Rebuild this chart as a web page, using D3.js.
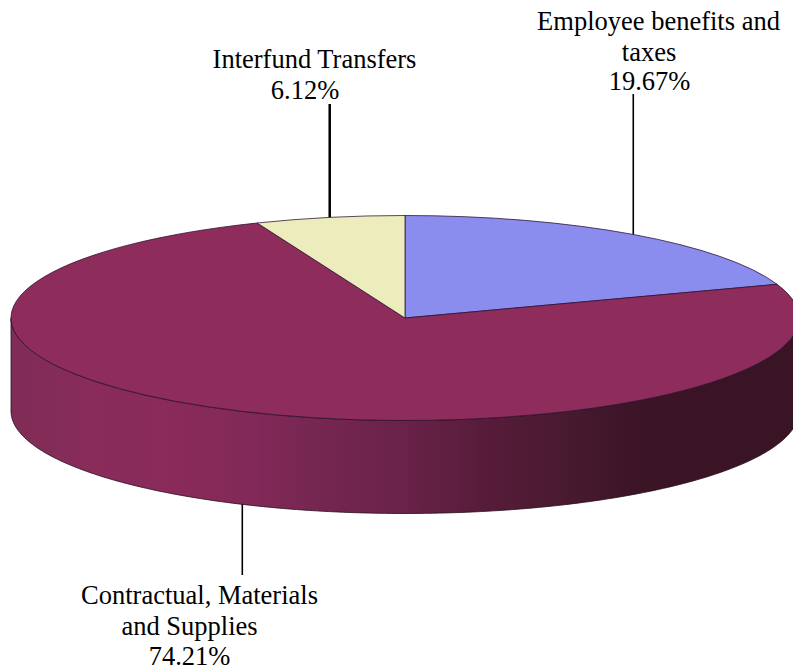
<!DOCTYPE html>
<html>
<head>
<meta charset="utf-8">
<script src="https://cdn.jsdelivr.net/npm/d3@7"></script>
<style>
  html, body { margin: 0; padding: 0; background: #fff; overflow: hidden; }
  text { font-family: "Liberation Serif", serif; font-size: 26.5px; fill: #000; }
</style>
</head>
<body>
<div id="chart"></div>
<script>
const categories = ['Employee benefits and taxes', 'Contractual, Materials and Supplies', 'Interfund Transfers'];
const shares = [19.67, 74.21, 6.12];
const sliceColors = ['#8a8cee', '#8e2c5c', '#ececbc'];
const labelLines = [
  ['Employee benefits and', 'taxes', '19.67%'],
  ['Contractual, Materials', 'and Supplies', '74.21%'],
  ['Interfund Transfers', '6.12%']
];

const width = 793, height = 671;
const cx = 405, cy = 318, rx = 394, ry = 102.5, depth = 93;

// where each label line sits, same order as labelLines
const labelPos = [
  [[658.5, 30], [649, 61], [649.5, 90]],
  [[199.5, 604], [189.5, 635], [189.5, 665]],
  [[314.5, 68], [305, 99]]
];
const leaderTop = [94, 575, 104];
const leaderWidth = [1.6, 1.6, 2.5];

// side wall shading, left to right
const wallStops = [
  [0, '#7f2c56'], [0.1, '#892c5a'], [0.2, '#8a2b5a'], [0.3, '#822958'],
  [0.4, '#742650'], [0.5, '#692248'], [0.6, '#571c3a'], [0.7, '#491a30'],
  [0.8, '#3b1426'], [1, '#391425']
];

const svg = d3.select('#chart').append('svg')
  .attr('width', width)
  .attr('height', height);

const defs = svg.append('defs');
const grad = defs.append('linearGradient')
  .attr('id', 'wall')
  .attr('gradientUnits', 'userSpaceOnUse')
  .attr('x1', cx - rx).attr('x2', cx + rx)
  .attr('y1', 0).attr('y2', 0);
grad.selectAll('stop').data(wallStops).enter().append('stop')
  .attr('offset', d => d[0])
  .attr('stop-color', d => d[1]);

const pie = d3.pie().sort(null).value(d => d);
const slices = pie(shares);

// pie angle (0 at top, clockwise) to flattened disc position
const sx = d3.scaleLinear().domain([-1, 1]).range([cx - rx, cx + rx]);
const sy = d3.scaleLinear().domain([-1, 1]).range([cy - ry, cy + ry]);
const px = a => sx(Math.sin(a));
const py = a => sy(-Math.cos(a));

// front wall, lower half of the ellipse
const frontAngles = d3.range(90, 270.5, 1).map(d => d * Math.PI / 180);
const wallPath = d3.path();
frontAngles.forEach((a, i) => {
  if (i === 0) wallPath.moveTo(px(a), py(a));
  else wallPath.lineTo(px(a), py(a));
});
frontAngles.slice().reverse().forEach(a => wallPath.lineTo(px(a), py(a) + depth));
wallPath.closePath();

svg.append('path')
  .attr('d', wallPath.toString())
  .attr('fill', 'url(#wall)')
  .attr('stroke', '#2a0c1c')
  .attr('stroke-width', 0.8);

// top of the disc: d3.arc squashed vertically
const arc = d3.arc().innerRadius(0).outerRadius(rx);
const disc = svg.append('g')
  .attr('transform', `translate(${cx},${cy}) scale(1,${ry / rx})`);

disc.selectAll('path')
  .data(slices)
  .enter()
  .append('path')
  .attr('d', arc)
  .attr('fill', (d, i) => sliceColors[i])
  .attr('stroke', '#2a1030')
  .attr('stroke-opacity', 0.85)
  .attr('stroke-width', 0.9)
  .attr('vector-effect', 'non-scaling-stroke');

// leaders start at the middle of each slice's rim
const midAngle = d => (d.startAngle + d.endAngle) / 2;
const rimY = d => {
  const a = midAngle(d);
  return Math.cos(a) < 0 ? py(a) + depth : py(a);
};

svg.append('g').selectAll('line')
  .data(slices)
  .enter()
  .append('line')
  .attr('x1', d => px(midAngle(d)))
  .attr('x2', d => px(midAngle(d)))
  .attr('y1', d => rimY(d))
  .attr('y2', (d, i) => leaderTop[i])
  .attr('stroke', '#000')
  .attr('stroke-width', (d, i) => leaderWidth[i]);

const labels = svg.append('g');
labelLines.forEach((lines, i) => {
  lines.forEach((line, j) => {
    labels.append('text')
      .attr('x', labelPos[i][j][0])
      .attr('y', labelPos[i][j][1])
      .attr('text-anchor', 'middle')
      .text(line);
  });
});
</script>
</body>
</html>
